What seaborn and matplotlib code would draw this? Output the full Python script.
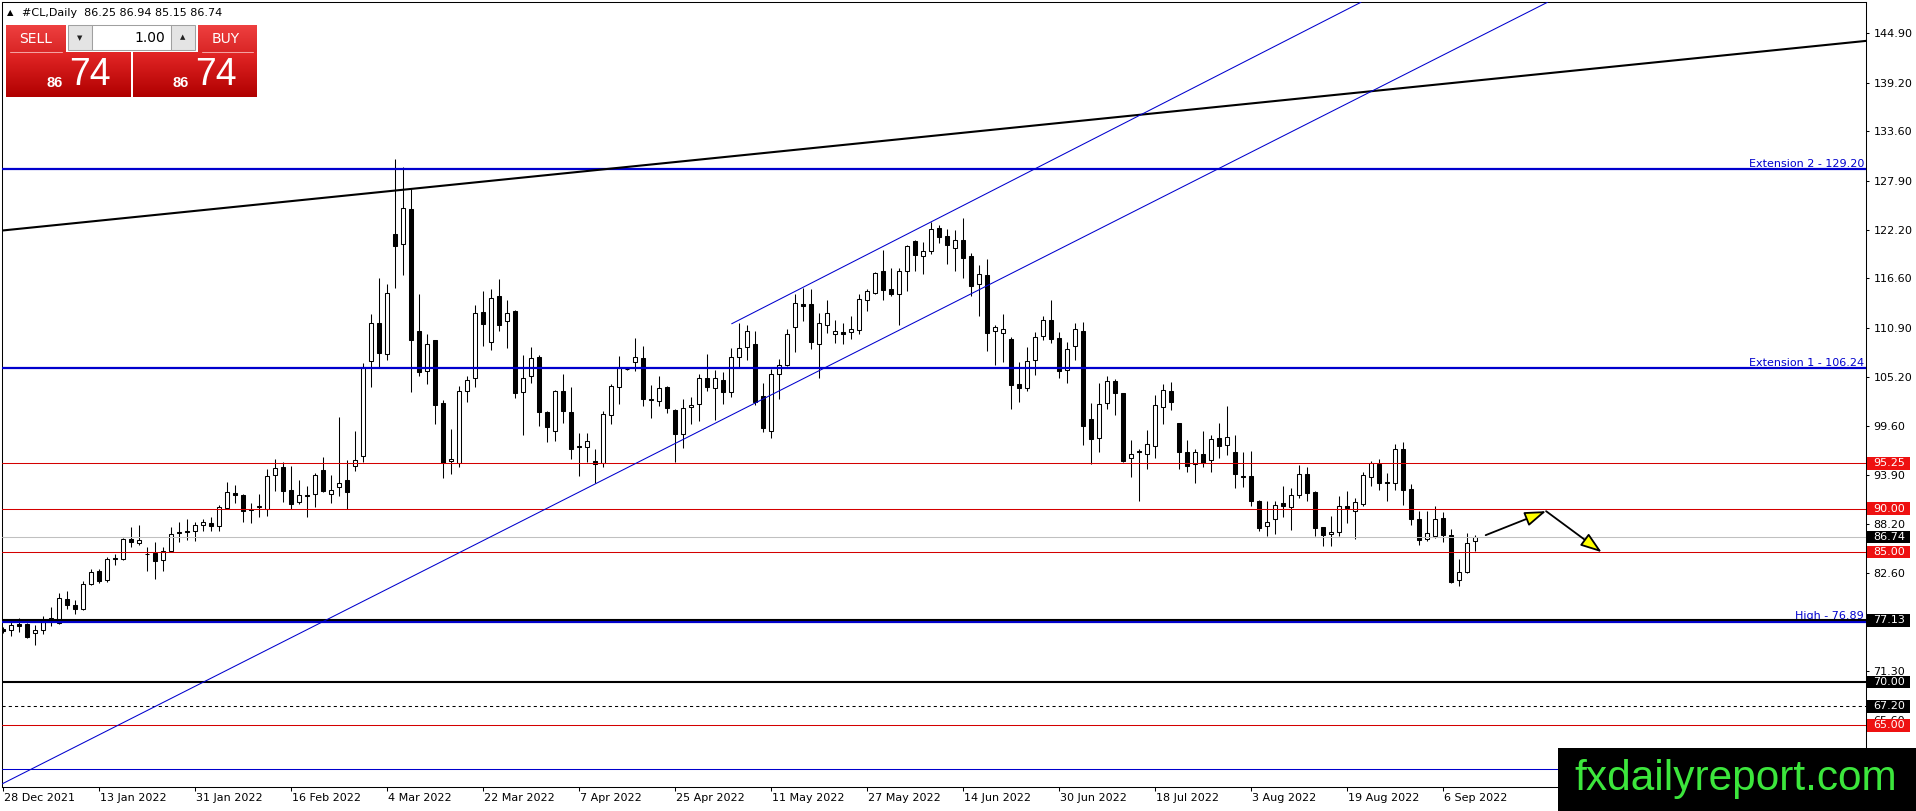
import numpy as np
import pandas as pd
import matplotlib
matplotlib.use("Agg")
import matplotlib.pyplot as plt
import seaborn as sns
from matplotlib.patches import Rectangle, FancyArrowPatch
from matplotlib.colors import LinearSegmentedColormap
from matplotlib.transforms import ScaledTranslation

# daily OHLC bars (28 Dec 2021 .. 12 Sep 2022)
opens = [76.1, 76.0, 76.65, 76.69, 75.61, 76.0, 77.3, 76.77, 79.58, 78.92,
         78.42, 81.31, 82.85, 81.77, 84.35, 84.2, 86.51, 86.05, 84.81, 84.89,
         84.08, 85.16, 87.28, 87.47, 87.4, 88.17, 88.36, 88.05, 90.1, 91.83,
         91.6, 89.94, 90.17, 89.98, 93.91, 94.87, 92.17, 90.75, 91.63, 91.71,
         94.48, 91.71, 92.48, 93.33, 94.98, 96.14, 107.04, 111.41, 107.89, 121.75,
         120.6, 124.64, 110.51, 105.96, 109.43, 102.23, 95.56, 95.29, 103.57, 105.11,
         112.7, 109.31, 114.51, 111.66, 112.89, 103.53, 105.38, 107.58, 101.22, 99.03,
         103.65, 101.22, 97.22, 97.1, 95.56, 95.25, 100.88, 104.11, 106.08, 106.92,
         107.42, 102.73, 102.49, 104.11, 101.42, 98.64, 101.72, 102.11, 105.11, 103.96,
         104.92, 103.46, 107.5, 108.73, 109.04, 103.0, 99.03, 105.57, 106.65, 110.96,
         113.66, 113.66, 109.04, 111.23, 110.19, 110.46, 110.39, 110.66, 114.12, 114.93,
         117.51, 115.39, 114.82, 117.44, 120.86, 119.13, 119.75, 122.44, 121.44, 120.13,
         121.06, 119.13, 115.97, 116.94, 110.47, 110.27, 109.62, 104.42, 103.96, 107.19,
         109.93, 111.85, 109.73, 106.04, 108.77, 110.47, 100.37, 98.18, 102.22, 104.8,
         103.38, 95.87, 96.64, 96.33, 97.22, 101.73, 103.65, 99.88, 96.53, 95.18,
         96.34, 95.64, 98.19, 97.38, 96.61, 93.8, 93.83, 90.95, 87.98, 88.83,
         90.68, 90.17, 91.64, 94.03, 91.98, 87.94, 87.1, 87.29, 90.37, 89.79,
         90.56, 93.72, 95.18, 93.1, 92.99, 96.92, 92.3, 88.83, 86.52, 86.83,
         88.94, 86.98, 81.82, 82.67, 86.25]
highs = [76.4, 77.15, 77.38, 76.8, 76.57, 77.65, 78.61, 80.27, 80.54, 79.46,
         81.62, 83.04, 83.04, 84.39, 84.78, 86.63, 87.93, 88.17, 85.62, 86.12,
         85.62, 87.93, 88.44, 88.82, 88.44, 88.82, 89.02, 90.48, 93.14, 92.75,
         91.65, 90.63, 91.71, 94.6, 95.76, 95.37, 94.98, 93.33, 92.67, 94.1,
         96.02, 93.94, 100.57, 95.64, 99.03, 106.81, 112.51, 116.63, 115.97, 130.42,
         129.45, 126.95, 114.82, 110.2, 109.5, 102.57, 99.22, 104.23, 105.38, 113.47,
         115.13, 115.4, 116.55, 114.13, 112.9, 107.77, 108.73, 107.77, 101.3, 103.7,
         105.58, 104.03, 98.72, 98.72, 96.91, 101.34, 104.42, 107.69, 106.15, 109.73,
         108.85, 104.34, 105.38, 104.23, 101.53, 102.69, 102.96, 105.58, 107.89, 106.04,
         105.77, 108.58, 111.43, 111.16, 110.51, 104.5, 106.15, 107.31, 110.77, 114.82,
         115.51, 115.39, 112.62, 114.05, 111.81, 111.43, 112.31, 114.82, 115.39, 117.32,
         119.9, 117.78, 117.78, 120.48, 121.06, 120.79, 123.1, 122.71, 122.33, 122.21,
         123.6, 119.55, 118.09, 118.86, 111.27, 112.43, 109.81, 106.92, 108.65, 110.39,
         112.2, 114.05, 110.39, 109.23, 111.43, 111.54, 102.18, 104.5, 105.38, 105.0,
         103.4, 97.99, 96.91, 99.1, 103.08, 104.42, 104.62, 99.9, 97.95, 96.91,
         99.03, 98.57, 99.88, 101.92, 98.46, 96.53, 96.65, 91.0, 90.87, 90.95,
         92.68, 92.41, 95.1, 94.87, 92.0, 87.95, 89.21, 91.52, 92.1, 91.22,
         94.22, 95.57, 95.76, 94.1, 97.42, 97.69, 92.87, 89.71, 89.71, 90.37,
         89.6, 87.67, 84.21, 87.21, 86.94]
lows = [75.7, 75.34, 75.73, 75.1, 74.26, 75.53, 76.42, 76.69, 78.42, 77.84,
        78.31, 81.19, 81.39, 81.5, 83.5, 84.08, 85.62, 85.82, 82.77, 81.89,
        82.85, 85.08, 86.12, 86.39, 86.32, 87.47, 87.47, 87.47, 89.98, 90.63,
        88.52, 88.32, 89.02, 89.13, 92.1, 90.75, 89.98, 90.56, 89.02, 90.17,
        91.9, 90.63, 91.44, 89.98, 94.33, 95.37, 104.08, 106.35, 107.19, 115.51,
        116.94, 103.46, 105.38, 104.42, 99.8, 93.56, 94.02, 94.79, 102.3, 104.03,
        108.85, 108.35, 110.58, 108.58, 102.8, 98.57, 104.54, 99.61, 97.68, 97.87,
        99.88, 95.75, 93.83, 95.37, 92.94, 94.79, 99.8, 102.11, 106.0, 105.96,
        101.92, 100.49, 101.92, 101.03, 95.37, 97.03, 99.8, 100.11, 103.65, 100.26,
        102.11, 102.96, 106.42, 107.19, 102.03, 98.84, 98.18, 102.68, 106.54, 108.08,
        111.66, 108.46, 105.07, 110.27, 109.12, 109.04, 109.62, 110.19, 112.81, 114.82,
        114.12, 114.55, 111.16, 115.12, 117.51, 117.13, 119.36, 120.67, 118.28, 117.51,
        116.67, 114.51, 112.2, 108.19, 106.65, 106.92, 101.53, 102.3, 103.57, 105.5,
        109.54, 109.12, 105.11, 104.5, 107.19, 97.37, 95.18, 96.52, 101.53, 100.88,
        95.37, 93.63, 90.94, 94.6, 95.84, 99.8, 101.42, 94.6, 94.22, 92.95,
        94.87, 94.22, 95.87, 96.26, 92.41, 92.49, 90.29, 87.48, 86.9, 87.09,
        89.02, 87.6, 91.25, 90.87, 86.82, 85.67, 85.75, 86.9, 88.33, 86.52,
        90.37, 92.68, 92.22, 90.95, 92.22, 90.48, 88.17, 85.86, 86.25, 86.63,
        86.13, 81.43, 81.13, 82.6, 85.15]
closes = [75.9, 76.61, 76.46, 75.15, 76.0, 76.88, 77.4, 79.69, 78.88, 78.42,
          81.31, 82.66, 81.62, 84.2, 84.2, 86.51, 86.12, 86.39, 84.74, 84.0,
          85.16, 87.09, 87.2, 87.36, 88.13, 88.44, 87.97, 90.17, 91.9, 91.6,
          89.79, 89.86, 90.36, 93.75, 94.68, 92.1, 90.56, 91.6, 91.52, 93.94,
          92.1, 92.21, 92.98, 91.9, 95.68, 106.35, 111.41, 108.0, 114.93, 120.33,
          124.76, 109.5, 105.77, 109.04, 101.99, 95.25, 95.75, 103.57, 104.88, 112.62,
          111.35, 114.36, 111.24, 112.62, 103.34, 105.11, 107.42, 101.15, 99.41, 103.65,
          101.26, 96.91, 97.1, 97.8, 95.18, 100.95, 104.15, 106.27, 106.08, 107.5,
          102.69, 102.61, 103.96, 101.65, 98.64, 101.65, 102.03, 105.11, 104.03, 105.11,
          103.46, 107.5, 108.58, 110.51, 102.3, 99.34, 105.57, 106.61, 110.19, 113.78,
          113.39, 109.23, 111.47, 112.62, 110.58, 110.19, 110.7, 114.24, 115.12, 117.24,
          115.28, 114.82, 117.51, 120.29, 119.32, 119.71, 122.33, 121.36, 120.48, 120.98,
          118.98, 115.7, 117.05, 110.27, 110.97, 110.77, 104.3, 103.96, 107.04, 109.81,
          111.81, 109.62, 105.88, 108.46, 110.77, 99.53, 98.06, 102.11, 104.8, 103.38,
          95.48, 96.33, 96.52, 97.49, 102.0, 103.73, 102.31, 96.53, 94.99, 96.53,
          95.3, 98.07, 97.22, 98.26, 94.03, 93.72, 90.87, 87.75, 88.52, 90.44,
          90.37, 91.6, 94.03, 91.83, 87.75, 87.02, 87.37, 90.37, 90.06, 90.83,
          93.84, 95.3, 92.99, 92.99, 96.92, 92.22, 88.83, 86.4, 87.17, 88.83,
          86.98, 81.59, 82.67, 86.02, 86.74]

date_labels = ["28 Dec 2021", "13 Jan 2022", "31 Jan 2022", "16 Feb 2022", "4 Mar 2022",
               "22 Mar 2022", "7 Apr 2022", "25 Apr 2022", "11 May 2022", "27 May 2022",
               "14 Jun 2022", "30 Jun 2022", "18 Jul 2022", "3 Aug 2022", "19 Aug 2022",
               "6 Sep 2022"]
bars_per_label = 12

price_ticks = [144.90, 139.20, 133.60, 127.90, 122.20, 116.60, 110.90, 105.20,
               99.60, 93.90, 88.20, 82.60, 71.30, 65.60]

extension_levels = [129.20, 106.24]
extension_names = ["Extension 2 - 129.20", "Extension 1 - 106.24"]
red_levels = [95.25, 90.00, 85.00, 65.00]
last_price = 86.74
high_level = 76.89
black_levels = [77.13, 70.00]
dashed_level = 67.20
low_blue_level = 60.0
box_prices = [95.25, 90.00, 86.74, 85.00, 77.13, 70.00, 67.20, 65.00]
box_colors = ["#EE1111", "#EE1111", "black", "#EE1111", "black", "black", "black", "#EE1111"]

# trend lines as (bar, price) anchor pairs
black_trend = [(0, 122.14), (232.8, 144.02)]
channel_low = [(0, 58.30), (192.1, 148.05)]
channel_high = [(91.05, 111.36), (169.7, 148.48)]

# projected path drawn with the two arrows
arrow_bars = [185.3, 192.85, 199.8]
arrow_prices = [86.95, 89.72, 84.98]

df = pd.DataFrame({"open": opens, "high": highs, "low": lows, "close": closes})
df["bar"] = np.arange(len(df))

sns.set_theme(style="ticks")
plt.rcParams["font.family"] = ["DejaVu Sans"]

W, H = 1916, 811
fig = plt.figure(figsize=(W / 100, H / 100), dpi=100, facecolor="white")
ax = fig.add_axes([2.3 / W, 1 - 787 / H, (1866 - 2.3) / W, (787 - 2.3) / H])
ax.set_facecolor("white")

# candles
up = df["close"] >= df["open"]
body_low = np.minimum(df["open"], df["close"])
body_h = np.maximum((df["close"] - df["open"]).abs(), 0.08)
ax.vlines(df["bar"], df["low"], df["high"], color="black", linewidth=0.75, zorder=3)
ax.bar(df["bar"][up], body_h[up], bottom=body_low[up], width=0.45,
       color="white", edgecolor="black", linewidth=0.75, zorder=4)
ax.bar(df["bar"][~up], body_h[~up], bottom=body_low[~up], width=0.45,
       color="black", edgecolor="black", linewidth=0.75, zorder=4)

# horizontal levels
for lvl in extension_levels:
    ax.axhline(lvl, color="#0000CD", linewidth=1.6, zorder=5)
for lvl in red_levels:
    ax.axhline(lvl, color="#D40000", linewidth=0.75, zorder=5)
ax.axhline(last_price, color="#C0C0C0", linewidth=0.75, zorder=5)
ax.axhline(high_level, color="#0000CD", linewidth=1.6, zorder=5)
for lvl in black_levels:
    ax.axhline(lvl, color="black", linewidth=1.5, zorder=5)
ax.axhline(dashed_level, color="black", linewidth=0.75, linestyle=(0, (3, 3)), zorder=5)
ax.axhline(low_blue_level, color="#0000CD", linewidth=0.75, zorder=5)

# trend lines
ax.axline(black_trend[0], black_trend[1], color="black", linewidth=1.5, zorder=5)
ax.axline(channel_low[0], channel_low[1], color="#0000CD", linewidth=0.75, zorder=5)
ax.plot([p[0] for p in channel_high], [p[1] for p in channel_high],
        color="#0000CD", linewidth=0.75, zorder=5)

# level captions
for lvl, name in zip(extension_levels, extension_names):
    ax.annotate(name, xy=(0.9989, lvl), xycoords=("axes fraction", "data"),
                xytext=(0, 1.5), textcoords="offset points", ha="right", va="baseline",
                color="#0000CD", fontsize=8, zorder=4)
ax.annotate(f"High - {high_level:.2f}", xy=(0.9989, high_level), xycoords=("axes fraction", "data"),
            xytext=(0, 2.5), textcoords="offset points", ha="right", va="baseline",
            color="#0000CD", fontsize=8, zorder=4)

# arrows of the projected move
for i in range(len(arrow_bars) - 1):
    arr = FancyArrowPatch((arrow_bars[i], arrow_prices[i]), (arrow_bars[i + 1], arrow_prices[i + 1]),
                          arrowstyle="-|>,head_length=13,head_width=4.5", mutation_scale=1,
                          linewidth=1.3, edgecolor="black", facecolor="#FFFF00",
                          shrinkA=0, shrinkB=0, zorder=6)
    ax.add_patch(arr)

# axes look (MetaTrader style)
ax.set_xlim(-0.125, 232.84)
ax.set_ylim(57.87, 148.48)
for sp in ax.spines.values():
    sp.set_visible(True)
    sp.set_color("black")
    sp.set_linewidth(0.75)
ax.grid(False)

ax.yaxis.tick_right()
ax.set_yticks(price_ticks)
ax.set_yticklabels([f"{v:.2f}" for v in price_ticks])
ax.tick_params(axis="y", which="both", direction="out", length=2.4, width=0.75,
               pad=2.9, labelsize=8, colors="black", left=False, right=True)

ax.set_xticks(np.arange(len(date_labels)) * bars_per_label)
ax.set_xticklabels(date_labels, ha="left")
ax.tick_params(axis="x", direction="out", length=3, width=0.75, pad=1.5,
               labelsize=8, colors="black", bottom=True, top=False)
shift = ScaledTranslation(1 / 100, 0, fig.dpi_scale_trans)
for lab in ax.get_xticklabels():
    lab.set_transform(lab.get_transform() + shift)
ax.set_xlabel("")
ax.set_ylabel("")

# coloured price boxes on the right scale
ytrans = ax.get_yaxis_transform()
for price, col in zip(box_prices, box_colors):
    ax.add_patch(Rectangle((1.00072, price - 0.735), 0.02307, 1.47, transform=ytrans,
                           facecolor=col, edgecolor="none", clip_on=False, zorder=6))
    ax.text(1.00392, price, f"{price:.2f}", transform=ytrans, ha="left", va="center",
            color="white", fontsize=8, clip_on=False, zorder=7)

# overlay in pixel coordinates: header, trade panel, watermark
ov = fig.add_axes([0, 0, 1, 1])
ov.patch.set_alpha(0)
ov.axis("off")


def grad_box(x0, y0, x1, y1, top, bottom):
    cmap = LinearSegmentedColormap.from_list("g", [top, bottom])
    g = np.linspace(0, 1, 64).reshape(-1, 1)
    ov.imshow(g, cmap=cmap, extent=(x0, x1, y1, y0), aspect="auto",
              origin="upper", interpolation="bilinear", zorder=2)


ov.text(10, 13, "\u25B2", fontsize=6, ha="center", va="center", color="black")
ov.text(22, 13, "#CL,Daily  86.25 86.94 85.15 86.74", fontsize=8, ha="left",
        va="center", color="black")

grad_box(6, 25, 66, 52, "#EE4040", "#DA2626")
grad_box(198, 25, 257, 52, "#EE4040", "#DA2626")
grad_box(6, 52, 131, 97, "#E32626", "#B00000")
grad_box(133, 52, 257, 97, "#E32626", "#B00000")
ov.plot([10, 62], [52, 52], color="#F4A0A0", linewidth=0.75, zorder=3)
ov.plot([202, 253], [52, 52], color="#F4A0A0", linewidth=0.75, zorder=3)
for x0, x1, fc in [(68, 92, "#E4E4E4"), (92, 171, "white"), (171, 195, "#E4E4E4")]:
    ov.add_patch(Rectangle((x0, 25), x1 - x0, 25, facecolor=fc, edgecolor="#A0A0A0",
                           linewidth=0.75, zorder=3))
ov.text(80, 38, "\u25BC", fontsize=5, ha="center", va="center", color="#222222", zorder=4)
ov.text(183, 37, "\u25B2", fontsize=5, ha="center", va="center", color="#222222", zorder=4)
ov.text(165, 38, "1.00", fontsize=10, ha="right", va="center", color="black", zorder=4)
ov.text(35.5, 39, "SELL", fontsize=10, ha="center", va="center", color="white", zorder=4)
ov.text(226, 39, "BUY", fontsize=10, ha="center", va="center", color="white", zorder=4)
for cx in (0, 126):
    ov.text(55 + cx, 83, "86", fontsize=10.5, fontweight="bold", ha="center", va="center",
            color="white", family="Liberation Sans", zorder=4)
    ov.text(90 + cx, 75, "74", fontsize=27, ha="center", va="center",
            color="white", family="Liberation Sans", zorder=4)

ov.add_patch(Rectangle((1558, 748), W - 1558, H - 748, facecolor="black",
                       edgecolor="none", zorder=5))
ov.text(1736, 790, "fxdailyreport.com", fontsize=30.5, ha="center", va="baseline",
        color="#3CE63C", family="Liberation Sans", zorder=6)

ov.set_xlim(0, W)
ov.set_ylim(H, 0)

fig.savefig("out.png", dpi=100, facecolor="white")
plt.close(fig)
